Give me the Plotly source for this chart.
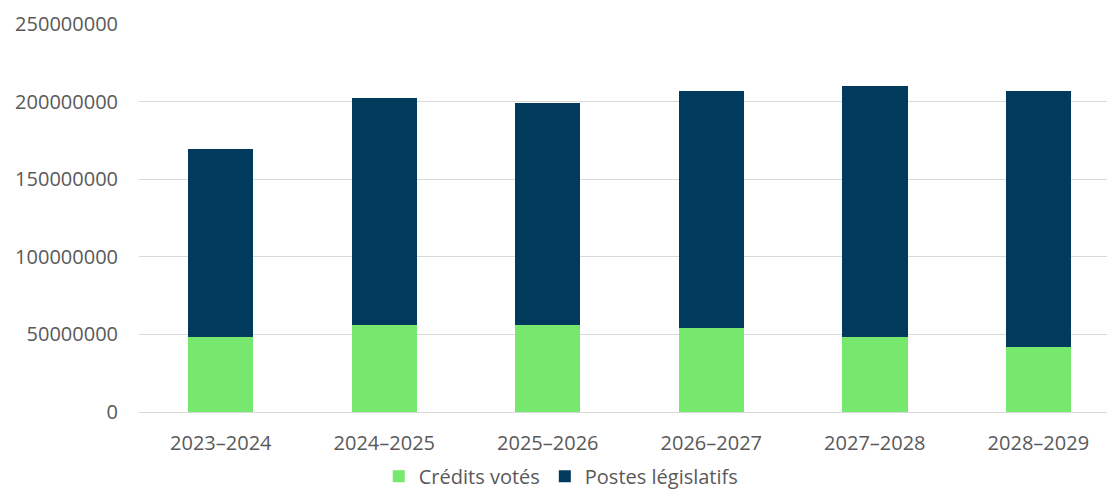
import plotly.graph_objects as go

categories = ["2023–2024", "2024–2025", "2025–2026", "2026–2027", "2027–2028", "2028–2029"]
credits_votes = [48500000, 56100000, 55900000, 54100000, 48500000, 42100000]
postes_legislatifs = [121200000, 146200000, 143400000, 152700000, 161500000, 164700000]
y_ticks = [0, 50000000, 100000000, 150000000, 200000000, 250000000]

font_family = "Open Sans, Liberation Sans, sans-serif"
text_color = "#595959"

fig = go.Figure()
fig.add_trace(go.Bar(x=categories, y=credits_votes, name="Crédits votés",
                     marker=dict(color="#77E86E", line=dict(width=0)), width=0.4))
fig.add_trace(go.Bar(x=categories, y=postes_legislatifs, name="Postes législatifs",
                     marker=dict(color="#003A5D", line=dict(width=0)), width=0.4))

fig.update_layout(
    barmode="stack",
    width=1107, height=491,
    margin=dict(l=139, r=0, t=24, b=79, autoexpand=False),
    paper_bgcolor="white", plot_bgcolor="white",
    font=dict(family=font_family, size=20, color=text_color),
    xaxis=dict(range=[-0.5, 5.42], showgrid=False, showline=False, zeroline=False,
               automargin=False,
               ticks="", ticklabelstandoff=17, tickfont=dict(size=20, color=text_color)),
    yaxis=dict(range=[0, 250000000], tickvals=y_ticks,
               ticktext=[str(v) for v in y_ticks], automargin=False,
               showgrid=True, gridcolor="#D9D9D9", gridwidth=1,
               zeroline=True, zerolinecolor="#D9D9D9", zerolinewidth=1,
               showline=False, ticks="", ticklabelstandoff=20,
               tickfont=dict(size=20, color=text_color)),
    legend=dict(orientation="h", xref="container", yref="container",
                x=0.507, y=0.03, xanchor="center", yanchor="middle",
                font=dict(size=20, color=text_color), traceorder="normal",
                itemwidth=30, tracegroupgap=0),
    bargap=0.6,
)

fig.write_html("out.html")
